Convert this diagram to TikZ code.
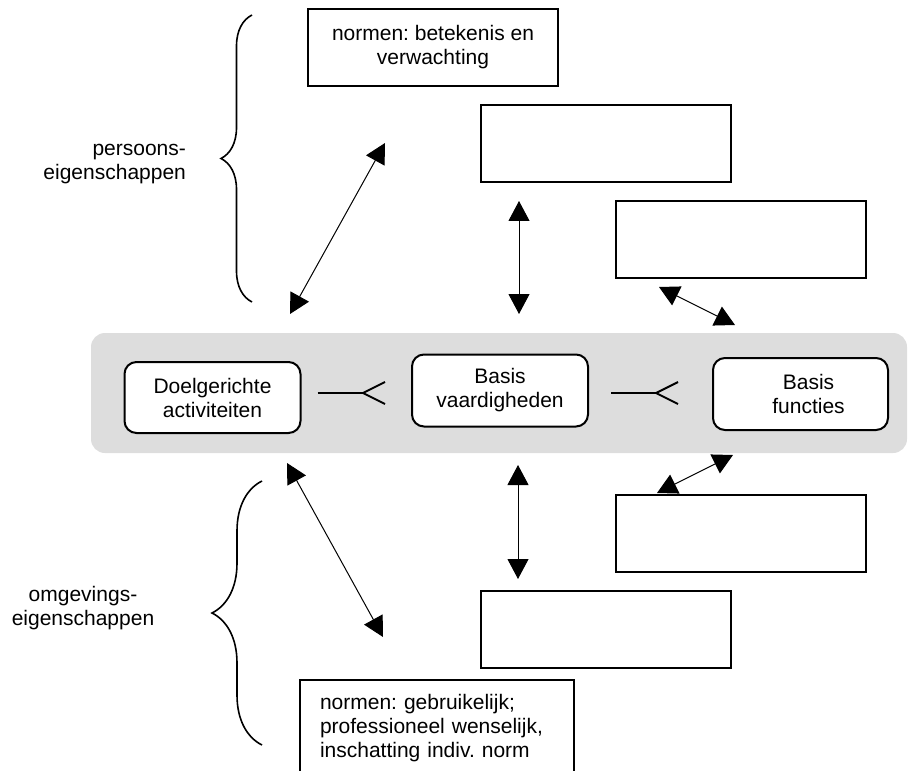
\documentclass[tikz,border=0pt]{standalone}
\usepackage{fontspec}
\setmainfont{Liberation Sans}
\usetikzlibrary{arrows.meta, decorations.pathreplacing, positioning}
\frenchspacing

\definecolor{bandgray}{HTML}{DDDDDD}

\begin{document}
\begin{tikzpicture}[x=0.5pt, y=-0.5pt, font=\fontsize{10.5}{12}\selectfont]
 \tikzstyle{normbox}=[rectangle, draw, line width=1pt, minimum width=125pt, minimum height=38.5pt, inner sep=0pt, align=center]
 \tikzstyle{corebox}=[rectangle, draw, rounded corners=6pt, fill=white, line width=1pt, minimum width=88pt, minimum height=36pt, inner sep=0pt, align=center]
 \tikzstyle{dbl}=[{Triangle[length=10pt, width=10.5pt]}-{Triangle[length=10pt, width=10.5pt]}, line width=0.5pt]
 \tikzstyle{fork}=[-{Straight Barb[reversed, length=11pt, width=11pt]}, line width=1pt]
 \tikzstyle{brc}=[decorate, line width=0.8pt]

 \useasboundingbox (0,0) rectangle (909,770);
 \clip (0,0) rectangle (909,770);

 % Band
 \fill [bandgray, rounded corners=7pt] (91,333) rectangle (907,453);

 % Main boxes
 \node (ndoel) at (212.5,397.5) [corebox, minimum height=35.5pt] {Doelgerichte\\activiteiten};
 \node (nvaard) at (500,390.5) [corebox] {Basis\\vaardigheden};
 \node (nfunct) at (800.5,394) [corebox, minimum width=87.5pt] {\hspace*{8pt}Basis\\\hspace*{8pt}functies};

 \draw [fork, shorten <=8pt, shorten >=12.5pt] (ndoel.east |- 0,393) -- (nvaard.west |- 0,393);
 \draw [fork, shorten <=11pt, shorten >=16.5pt] (nvaard.east |- 0,393) -- (nfunct.west |- 0,393);

 % Upper boxes
 \node (nnormtop) at (433,47.5) [normbox] {normen: betekenis en\\verwachting};
 \node (nboxa) at (606,143.5) [normbox] {};
 \node (nboxb) at (741,239.5) [normbox] {};

 % Lower boxes
 \node (nboxc) at (741,533.5) [normbox] {};
 \node (nboxd) at (606,629.5) [normbox] {};
 \node (nnormbot) at (299,679) [rectangle, draw, line width=1pt, anchor=north west, align=left, inner xsep=10pt, inner ysep=7pt, text width=117pt, text depth=60pt] {normen: gebruikelijk;\\professioneel wenselijk,\\inschatting indiv. norm};

 % Braces
 \node (npersoon) at (193,164) [anchor=east, align=right] {persoons-\\eigenschappen};
 \node (nomgeving) at (83,608) [align=center] {omgevings-\\eigenschappen};
 \coordinate (cbrtop1) at (252,302);
 \coordinate (cbrtop2) at (252,15);
 \coordinate (cbrbot1) at (262,745);
 \coordinate (cbrbot2) at (262,481);
 \draw [brc, decoration={brace, amplitude=15.5pt}] (cbrtop1) -- (cbrtop2);
 \draw [brc, decoration={brace, amplitude=25pt}] (cbrbot1) -- (cbrbot2);

 % Double arrows, upper half
 \coordinate (ca1) at (290,314);
 \coordinate (ca2) at (385,143);
 \coordinate (cb1) at (519,201);
 \coordinate (cb2) at (519,314);
 \coordinate (cc1) at (659,287);
 \coordinate (cc2) at (735,325);
 \draw [dbl] (ca1) -- (ca2);
 \draw [dbl] (cb1) -- (cb2);
 \draw [dbl] (cc1) -- (cc2);

 % Double arrows, lower half
 \coordinate (cd1) at (287,463);
 \coordinate (cd2) at (383,637);
 \coordinate (ce1) at (518,465);
 \coordinate (ce2) at (518,579);
 \coordinate (cf1) at (733,455);
 \coordinate (cf2) at (657,493);
 \draw [dbl] (cd1) -- (cd2);
 \draw [dbl] (ce1) -- (ce2);
 \draw [dbl] (cf1) -- (cf2);

\end{tikzpicture}
\end{document}
